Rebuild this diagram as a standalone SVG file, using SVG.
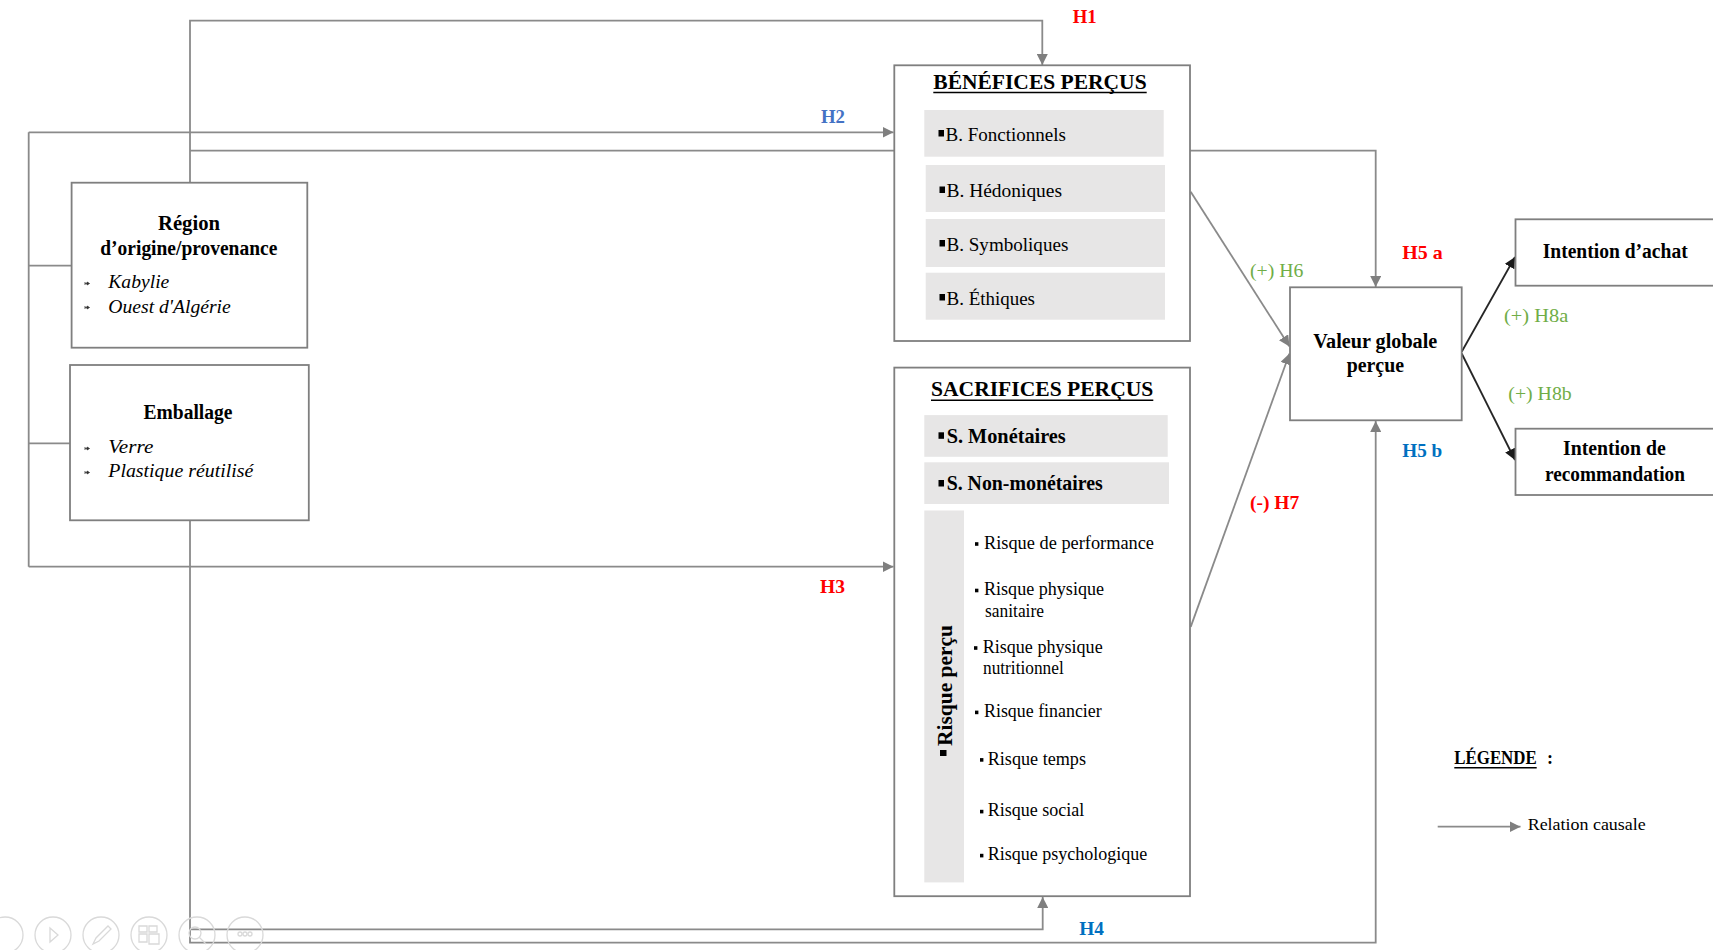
<svg xmlns="http://www.w3.org/2000/svg" width="1713" height="950" viewBox="0 0 1713 950">
<style>
text{font-family:"Liberation Serif","Times New Roman",serif;fill:#000}
.b{font-weight:bold}
.i{font-style:italic}
.h{font-size:20px;font-weight:bold}
.it{font-size:19px;font-style:italic}
.r{font-size:19px}
.rk{font-size:18px}
.lab{font-size:19px}
.box{fill:#fff;stroke:#7f7f7f;stroke-width:1.8}
.row{fill:#e7e6e6}
.ln{fill:none;stroke:#8a8a8a;stroke-width:1.8}
.dk{fill:none;stroke:#262626;stroke-width:1.8}
.ul{stroke:#000;stroke-width:1.4}
.red{fill:#ff0000}
.grn{fill:#70ad47}
.blu1{fill:#4472c4}
.blu2{fill:#0070c0}
.tb{fill:none;stroke:#d9d9d9;stroke-width:1.3}
.bul{fill:#333;stroke:#333;stroke-width:0.8}
</style>
<defs>
<marker id="ag" markerUnits="userSpaceOnUse" viewBox="0 0 10 10" markerWidth="11" markerHeight="11" refX="10" refY="5" orient="auto"><path d="M0,0 L10,5 L0,10 z" fill="#7f7f7f"/></marker>
<marker id="ab" markerUnits="userSpaceOnUse" viewBox="0 0 10 10" markerWidth="11" markerHeight="11" refX="10" refY="5" orient="auto"><path d="M0,0 L10,5 L0,10 z" fill="#1a1a1a"/></marker>
</defs>
<rect width="1713" height="950" fill="#fff"/>

<g id="connectors">
<path class="ln" d="M190,182.7 V20.7 H1042.3 V65" marker-end="url(#ag)"/>
<path class="ln" d="M190,150.7 H1375.7 V287" marker-end="url(#ag)"/>
<path class="ln" d="M28.7,132.3 V566.7"/>
<path class="ln" d="M28.7,132.3 H893.5" marker-end="url(#ag)"/>
<path class="ln" d="M28.7,566.7 H893.5" marker-end="url(#ag)"/>
<path class="ln" d="M28.7,265.7 H71.6"/>
<path class="ln" d="M28.7,443.3 H70"/>
<path class="ln" d="M190,520.3 V942.7 H1375.7 V421" marker-end="url(#ag)"/>
<path class="ln" d="M190,929.3 H1042.7 V897" marker-end="url(#ag)"/>
<path class="ln" d="M1190.7,191.7 L1289.5,346.5" marker-end="url(#ag)"/>
<path class="ln" d="M1190.7,626.9 L1289.5,353.5" marker-end="url(#ag)"/>
<path class="dk" d="M1461.7,351.7 L1515,257" marker-end="url(#ab)"/>
<path class="dk" d="M1461.7,353.5 L1515,460" marker-end="url(#ab)"/>
</g>

<g id="region">
<rect class="box" x="71.6" y="182.7" width="235.7" height="165"/>
<text class="h" x="158" y="230" textLength="62" lengthAdjust="spacingAndGlyphs">Région</text>
<text class="h" x="100.3" y="255" textLength="177" lengthAdjust="spacingAndGlyphs">d’origine/provenance</text>
<path class="bul" d="M85,282 V285 M85,283.5 H87 M87,282 L89.5,283.5 L87,285 z"/>
<text class="it" x="108.3" y="288" textLength="61" lengthAdjust="spacingAndGlyphs">Kabylie</text>
<path class="bul" d="M85,306 V309 M85,307.5 H87 M87,306 L89.5,307.5 L87,309 z"/>
<text class="it" x="108.3" y="312.5" textLength="122.5" lengthAdjust="spacingAndGlyphs">Ouest d'Algérie</text>
</g>

<g id="emballage">
<rect class="box" x="70" y="365" width="238.8" height="155.3"/>
<text class="h" x="143.5" y="419.3" textLength="89" lengthAdjust="spacingAndGlyphs">Emballage</text>
<path class="bul" d="M85,447 V450 M85,448.5 H87 M87,447 L89.5,448.5 L87,450 z"/>
<text class="it" x="108.3" y="453.3" textLength="45" lengthAdjust="spacingAndGlyphs">Verre</text>
<path class="bul" d="M85,471 V474 M85,472.5 H87 M87,471 L89.5,472.5 L87,474 z"/>
<text class="it" x="108.3" y="477.3" textLength="145" lengthAdjust="spacingAndGlyphs">Plastique réutilisé</text>
</g>

<g id="benefices">
<rect class="box" x="894.3" y="65.3" width="295.7" height="275.7"/>
<text class="h" x="933.3" y="89.3" textLength="213.3" lengthAdjust="spacingAndGlyphs">BÉNÉFICES PERÇUS</text>
<line class="ul" x1="933.3" y1="92.5" x2="1146.7" y2="92.5"/>
<rect class="row" x="924.3" y="110" width="239.4" height="46.7"/>
<rect class="row" x="925.7" y="165" width="239.3" height="47"/>
<rect class="row" x="925.7" y="219" width="239.3" height="48"/>
<rect class="row" x="925.7" y="272.7" width="239.3" height="47"/>
<rect x="938.5" y="130" width="5.5" height="6.5" fill="#000"/>
<text class="r" x="945.5" y="141" textLength="120.5" lengthAdjust="spacingAndGlyphs">B. Fonctionnels</text>
<rect x="939.5" y="186.5" width="5.5" height="6.5" fill="#000"/>
<text class="r" x="946.5" y="197" textLength="115.5" lengthAdjust="spacingAndGlyphs">B. Hédoniques</text>
<rect x="939.5" y="240" width="5.5" height="6.5" fill="#000"/>
<text class="r" x="946.5" y="250.5" textLength="121.8" lengthAdjust="spacingAndGlyphs">B. Symboliques</text>
<rect x="939.5" y="294" width="5.5" height="6.5" fill="#000"/>
<text class="r" x="946.5" y="304.5" textLength="88.5" lengthAdjust="spacingAndGlyphs">B. Éthiques</text>
</g>

<g id="sacrifices">
<rect class="box" x="894.3" y="367.6" width="295.7" height="528.6"/>
<text class="h" x="931" y="396.2" textLength="222.3" lengthAdjust="spacingAndGlyphs">SACRIFICES  PERÇUS</text>
<line class="ul" x1="931" y1="400.3" x2="1153.3" y2="400.3"/>
<rect class="row" x="924.3" y="415.1" width="243.4" height="41.7"/>
<rect class="row" x="924.3" y="462.3" width="244.7" height="41.7"/>
<rect class="row" x="924.3" y="510.5" width="39.7" height="371.9"/>
<rect x="938.5" y="432.3" width="5.5" height="6.5" fill="#000"/>
<text class="h" x="946.7" y="442.6" textLength="119" lengthAdjust="spacingAndGlyphs">S. Monétaires</text>
<rect x="938.5" y="480" width="5.5" height="6.5" fill="#000"/>
<text class="h" x="946.7" y="490.2" textLength="156" lengthAdjust="spacingAndGlyphs">S. Non-monétaires</text>
<rect x="940" y="750" width="6.5" height="6" fill="#000"/>
<text class="h" transform="translate(951.7,746) rotate(-90)" x="0" y="0" textLength="121" lengthAdjust="spacingAndGlyphs">Risque perçu</text>
<rect x="975" y="542.2" width="3.4" height="3.6" fill="#000"/>
<text class="rk" x="984" y="548.7" textLength="170" lengthAdjust="spacingAndGlyphs">Risque de performance</text>
<rect x="975" y="588.7" width="3.4" height="3.6" fill="#000"/>
<text class="rk" x="984" y="595.2" textLength="120" lengthAdjust="spacingAndGlyphs">Risque physique</text>
<text class="rk" x="985" y="616.5" textLength="59" lengthAdjust="spacingAndGlyphs">sanitaire</text>
<rect x="974" y="646.2" width="3.4" height="3.6" fill="#000"/>
<text class="rk" x="982.7" y="652.7" textLength="120" lengthAdjust="spacingAndGlyphs">Risque physique</text>
<text class="rk" x="983" y="674.4" textLength="80.7" lengthAdjust="spacingAndGlyphs">nutritionnel</text>
<rect x="975" y="710.6" width="3.4" height="3.6" fill="#000"/>
<text class="rk" x="984" y="717.1" textLength="117.7" lengthAdjust="spacingAndGlyphs">Risque financier</text>
<rect x="980" y="758.1" width="3.4" height="3.6" fill="#000"/>
<text class="rk" x="987.7" y="764.6" textLength="98.3" lengthAdjust="spacingAndGlyphs">Risque temps</text>
<rect x="980" y="809.8" width="3.4" height="3.6" fill="#000"/>
<text class="rk" x="987.7" y="816.3" textLength="96.7" lengthAdjust="spacingAndGlyphs">Risque social</text>
<rect x="980" y="853.8" width="3.4" height="3.6" fill="#000"/>
<text class="rk" x="987.7" y="860.3" textLength="159.7" lengthAdjust="spacingAndGlyphs">Risque psychologique</text>
</g>

<g id="valeur">
<rect class="box" x="1290" y="287.3" width="171.7" height="133"/>
<text class="h" x="1313.3" y="347.7" textLength="124" lengthAdjust="spacingAndGlyphs">Valeur globale</text>
<text class="h" x="1346.7" y="371.7" textLength="57.3" lengthAdjust="spacingAndGlyphs">perçue</text>
</g>

<g id="intention-achat">
<rect class="box" x="1515.5" y="219.3" width="210" height="66.4"/>
<text class="h" x="1542.7" y="258.3" textLength="145" lengthAdjust="spacingAndGlyphs">Intention d’achat</text>
</g>

<g id="intention-recommandation">
<rect class="box" x="1515.5" y="428.7" width="210" height="66.3"/>
<text class="h" x="1563" y="455" textLength="102.7" lengthAdjust="spacingAndGlyphs">Intention de</text>
<text class="h" x="1545" y="480.7" textLength="140" lengthAdjust="spacingAndGlyphs">recommandation</text>
</g>

<g id="labels">
<text class="lab b red" x="1072.7" y="22.7" textLength="24" lengthAdjust="spacingAndGlyphs">H1</text>
<text class="lab b blu1" x="821" y="123.3" textLength="24" lengthAdjust="spacingAndGlyphs">H2</text>
<text class="lab b red" x="820" y="593.3" textLength="25" lengthAdjust="spacingAndGlyphs">H3</text>
<text class="lab b blu2" x="1079.3" y="935" textLength="24.7" lengthAdjust="spacingAndGlyphs">H4</text>
<text class="lab b red" x="1402.3" y="259.3" textLength="40.4" lengthAdjust="spacingAndGlyphs">H5 a</text>
<text class="lab b blu2" x="1402.3" y="456.7" textLength="40" lengthAdjust="spacingAndGlyphs">H5 b</text>
<text class="lab grn" x="1250" y="276.7" textLength="53.3" lengthAdjust="spacingAndGlyphs">(+) H6</text>
<text class="lab b red" x="1250" y="508.5" textLength="49.3" lengthAdjust="spacingAndGlyphs">(-) H7</text>
<text class="lab grn" x="1504" y="321.7" textLength="64.3" lengthAdjust="spacingAndGlyphs">(+) H8a</text>
<text class="lab grn" x="1508.3" y="400" textLength="63.4" lengthAdjust="spacingAndGlyphs">(+) H8b</text>
</g>

<g id="legende">
<text class="b" font-size="18" x="1454.3" y="764.3" textLength="82.4" lengthAdjust="spacingAndGlyphs">LÉGENDE</text>
<line class="ul" x1="1454.3" y1="767.7" x2="1536.7" y2="767.7"/>
<text class="b" font-size="18" x="1547" y="764.3">:</text>
<path class="ln" d="M1437.7,826.7 H1520.5" marker-end="url(#ag)"/>
<text font-size="17" x="1527.7" y="830" textLength="118" lengthAdjust="spacingAndGlyphs">Relation  causale</text>
</g>

<g id="toolbar">
<circle class="tb" cx="5" cy="935" r="18"/>
<circle class="tb" cx="53" cy="935" r="18"/>
<path class="tb" d="M50,928 L58,935 L50,942 z"/>
<circle class="tb" cx="101" cy="935" r="18"/>
<path class="tb" d="M93,944 L96,938 L108,926 L111,929 L99,941 z"/>
<circle class="tb" cx="149" cy="935" r="18"/>
<path class="tb" d="M139,926 h8 v6 h-8 z M149,926 h8 v6 h-8 z M139,934 h8 v8 h-8 z M149,934 h10 v10 h-10 z"/>
<circle class="tb" cx="197" cy="935" r="18"/>
<circle class="tb" cx="195" cy="933" r="6"/>
<path class="tb" d="M199,937 L206,944"/>
<circle class="tb" cx="245" cy="935" r="18"/>
<circle class="tb" cx="240" cy="934" r="2"/>
<circle class="tb" cx="245" cy="934" r="2"/>
<circle class="tb" cx="250" cy="934" r="2"/>
</g>
</svg>
